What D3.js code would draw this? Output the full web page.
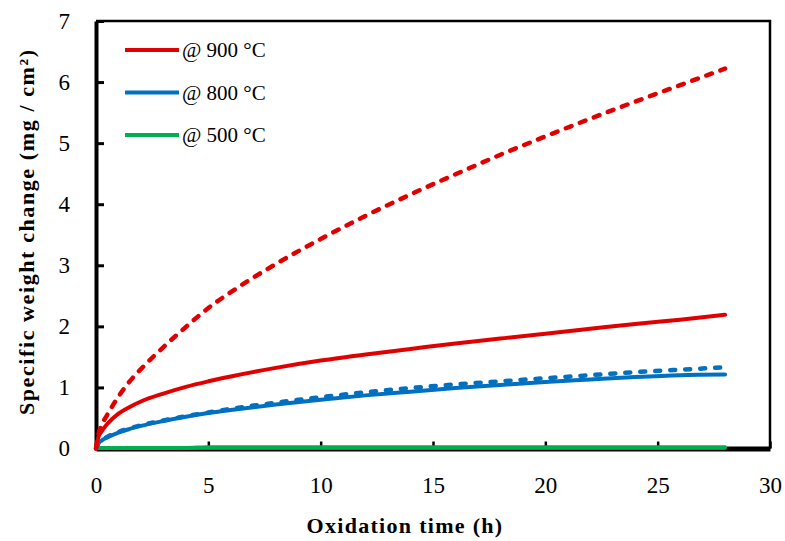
<!DOCTYPE html>
<html>
<head>
<meta charset="utf-8">
<script src="https://cdn.jsdelivr.net/npm/d3@7"></script>
<style>
  body { margin: 0; background: #fff; }
  text { font-family: "Liberation Serif", "DejaVu Serif", serif; fill: #000; }
</style>
</head>
<body>
<div id="chart"></div>
<script>
// oxidation time (h)
var times = [0, 0.1, 0.25, 0.5, 1, 1.5, 2, 3, 4, 5, 6, 8, 10, 12, 14, 16, 18, 20, 22, 24, 26, 28];

// specific weight change (mg / cm2)
var red900Dash  = [0, 0.22, 0.38, 0.55, 0.85, 1.1, 1.3, 1.66, 1.99, 2.3, 2.56, 3.02, 3.43, 3.81, 4.16, 4.49, 4.81, 5.11, 5.4, 5.68, 5.95, 6.22];
var red900Solid = [0, 0.18, 0.28, 0.4, 0.57, 0.68, 0.77, 0.9, 1.01, 1.1, 1.18, 1.32, 1.44, 1.54, 1.63, 1.72, 1.8, 1.88, 1.96, 2.04, 2.11, 2.19];
var blue800Dash  = [0, 0.08, 0.13, 0.19, 0.27, 0.33, 0.38, 0.46, 0.53, 0.59, 0.65, 0.75, 0.84, 0.92, 0.99, 1.05, 1.1, 1.15, 1.2, 1.25, 1.29, 1.33];
var blue800Solid = [0, 0.08, 0.13, 0.18, 0.26, 0.32, 0.37, 0.45, 0.52, 0.58, 0.63, 0.72, 0.8, 0.87, 0.93, 0.99, 1.04, 1.09, 1.13, 1.17, 1.2, 1.21];
var green500Dash  = [0, 0, 0, 0, 0, 0, 0, 0, 0, 0, 0, 0, 0, 0, 0, 0, 0, 0, 0, 0, 0, 0];
var green500Solid = [0.01, 0.01, 0.01, 0.01, 0.01, 0.01, 0.01, 0.01, 0.01, 0.02, 0.02, 0.02, 0.02, 0.02, 0.02, 0.02, 0.02, 0.02, 0.02, 0.02, 0.02, 0.02];

var xTicks = [0, 5, 10, 15, 20, 25, 30];
var yTicks = [0, 1, 2, 3, 4, 5, 6, 7];
var legendLabels = ["@ 900 \u00B0C", "@ 800 \u00B0C", "@ 500 \u00B0C"];

var RED = "#e00000", BLUE = "#0070c0", GREEN = "#00b050";

var series = [
    {values: green500Dash,  color: BLUE,  width: 3,   dash: null},
    {values: green500Solid, color: GREEN, width: 4,   dash: null},
    {values: blue800Solid,  color: BLUE,  width: 4,   dash: null},
    {values: blue800Dash,   color: BLUE,  width: 4.5, dash: "5,10"},
    {values: red900Solid,   color: RED,   width: 4,   dash: null},
    {values: red900Dash,    color: RED,   width: 4.5, dash: "6,9"}
];

var W = 785, H = 541;
var margin = {top: 21, left: 96},
    width = 770 - margin.left,
    height = 448.5 - margin.top;

var svg = d3.select("#chart").append("svg")
    .attr("width", W)
    .attr("height", H);
var g = svg.append("g")
    .attr("transform", "translate(" + margin.left + "," + margin.top + ")");

var x = d3.scaleLinear().domain([0, 30]).range([0, width]),
    y = d3.scaleLinear().domain([0, 7]).range([height, 0]);

// frame: thin top/right
g.append("path")
    .attr("d", "M0,0H" + width + "V" + height)
    .attr("fill", "none")
    .attr("stroke", "#000")
    .attr("stroke-width", 2.5);

// x axis
var xAxis = g.append("g")
    .attr("transform", "translate(0," + height + ")")
    .call(d3.axisBottom(x).tickValues(xTicks).tickFormat(d3.format("d"))
        .tickSizeInner(-7).tickSizeOuter(0).tickPadding(28));
xAxis.select(".domain").attr("stroke-width", 5);
xAxis.selectAll(".tick line").attr("stroke-width", 2.5);
xAxis.selectAll(".tick text")
    .attr("font-size", "23px")
    .attr("font-family", "Liberation Serif");

// y axis
var yAxis = g.append("g")
    .call(d3.axisLeft(y).tickValues(yTicks).tickFormat(d3.format("d"))
        .tickSizeInner(-8).tickSizeOuter(0).tickPadding(26));
yAxis.select(".domain").attr("stroke-width", 4);
yAxis.selectAll(".tick line").attr("stroke-width", 3);
yAxis.selectAll(".tick text")
    .attr("font-size", "23px")
    .attr("font-family", "Liberation Serif");

// series
var line = d3.line()
    .x(function(d, i) { return x(times[i]); })
    .y(function(d) { return y(d); })
    .curve(d3.curveMonotoneX);

g.selectAll(".series")
    .data(series)
    .enter().append("path")
    .attr("class", "series")
    .attr("fill", "none")
    .attr("stroke", function(d) { return d.color; })
    .attr("stroke-width", function(d) { return d.width; })
    .attr("stroke-linecap", "round")
    .attr("stroke-dasharray", function(d) { return d.dash; })
    .attr("d", function(d) { return line(d.values); });

// legend
var legend = svg.append("g")
    .attr("transform", "translate(125,50)");
var legendColors = [RED, BLUE, GREEN];
legendLabels.forEach(function(lbl, i) {
    var row = legend.append("g").attr("transform", "translate(0," + (i * 42.5) + ")");
    row.append("line")
        .attr("x1", 0).attr("x2", 54)
        .attr("stroke", legendColors[i])
        .attr("stroke-width", 4);
    row.append("text")
        .attr("x", 57)
        .attr("dy", "0.35em")
        .attr("font-size", "21px")
        .text(lbl);
});

// axis titles
svg.append("text")
    .attr("x", margin.left + width / 2 - 28)
    .attr("y", 533)
    .attr("text-anchor", "middle")
    .attr("font-size", "22px")
    .attr("font-weight", "bold")
    .attr("letter-spacing", "1.3px")
    .text("Oxidation time (h)");

svg.append("text")
    .attr("transform", "translate(34," + (margin.top + height / 2 - 3) + ") rotate(-90)")
    .attr("text-anchor", "middle")
    .attr("font-size", "22px")
    .attr("font-weight", "bold")
    .attr("letter-spacing", "1.6px")
    .text("Specific weight change (mg / cm\u00B2)");
</script>
</body>
</html>
